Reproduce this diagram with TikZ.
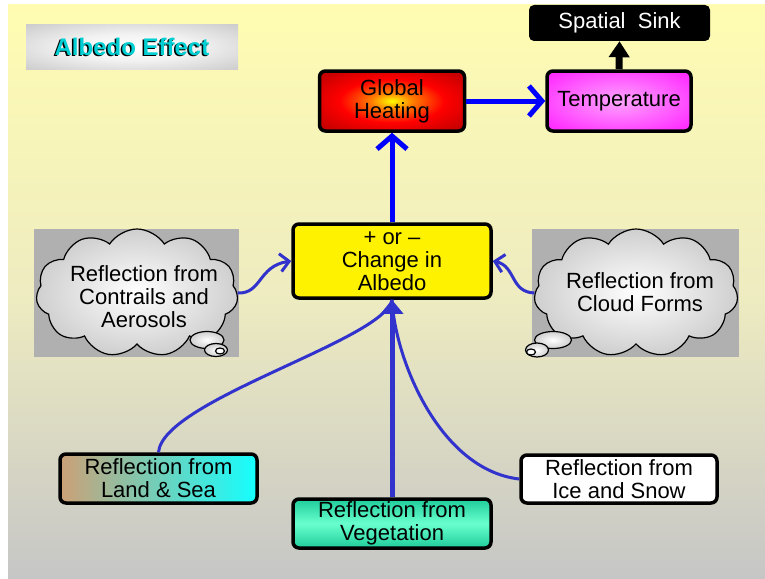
\documentclass[tikz,border=0pt]{standalone}
\usepackage{fontspec}
\setmainfont{Liberation Sans}
\usetikzlibrary{shapes.symbols,shapes.geometric,arrows.meta,shadings}
\definecolor{bgtop}{RGB}{255,252,178}
\definecolor{bgmid}{RGB}{238,236,192}
\definecolor{bgbot}{RGB}{198,198,198}
\definecolor{cloudbg}{RGB}{176,176,176}
\definecolor{cloudedge}{RGB}{178,178,178}
\definecolor{wavy}{RGB}{50,50,205}
\definecolor{tan}{RGB}{204,160,118}
\definecolor{aqua}{RGB}{20,255,255}
\definecolor{vegdark}{RGB}{30,205,155}
\definecolor{veglight}{RGB}{105,255,205}
\definecolor{titlecyan}{RGB}{0,208,212}
\definecolor{titlegrey}{RGB}{178,178,178}
\definecolor{darkred}{RGB}{70,0,0}
\definecolor{midred}{RGB}{190,0,0}
\definecolor{pinkc}{RGB}{255,165,255}
\pgfdeclareradialshading{heatshade}{\pgfpointorigin}{color(0bp)=(yellow); color(7bp)=(orange); color(18bp)=(red); color(34bp)=(midred); color(50bp)=(darkred)}
\pgfdeclareradialshading{magshade}{\pgfpointorigin}{color(0bp)=(pinkc); color(30bp)=(magenta!80!white); color(50bp)=(magenta)}
\pgfdeclareradialshading{cloudshade}{\pgfpointorigin}{color(0bp)=(white); color(40bp)=(cloudedge); color(50bp)=(cloudedge)}
\pgfdeclareradialshading{titleshade}{\pgfpointorigin}{color(0bp)=(white); color(15bp)=(white!95!black); color(50bp)=(titlegrey)}
\begin{document}
\begin{tikzpicture}[x=1pt,y=-1pt,
  txt/.style={font=\fontsize{22}{23}\selectfont, align=center, inner sep=0pt},
  box/.style={txt, draw=black, line width=3.5pt, rounded corners=6pt},
  blueline/.style={blue, line width=5pt, -{Straight Barb[length=13pt,width=30pt]}},
  wavyline/.style={wavy, line width=3pt},
  wavyarrow/.style={wavyline, -{Straight Barb[length=9pt,width=18pt]}},
  cloudbox/.style={cloud, cloud puffs=11, cloud puff arc=115, aspect=1.6, draw=black, line width=1.2pt, shading=cloudshade, inner sep=0pt},
  bubble/.style={ellipse, draw=black, line width=1.2pt, shading=cloudshade, inner sep=0pt}
]
\useasboundingbox (0,0) rectangle (765,578);
\fill[white] (0,0) rectangle (765,578);
\shade[top color=bgtop, bottom color=bgbot, middle color=bgmid] (8,5) rectangle (765,578);

% title
\shade[shading=titleshade] (26,25) rectangle (238,69);
\node[font=\bfseries\fontsize{24}{26}\selectfont, text=black, inner sep=0pt] (titleshadow) at (130.5,48) {Albedo Effect};
\node[font=\bfseries\fontsize{24}{26}\selectfont, text=titlecyan, inner sep=0pt] (title) at (132,47) {Albedo Effect};

% top nodes
\node[box, shading=heatshade, minimum width=145pt, minimum height=60pt] (gh) at (392,101) {Global\\Heating};
\node[box, shading=magshade, minimum width=144pt, minimum height=60pt] (temp) at (619,101) {Temperature};
\node[txt, fill=black, text=white, rounded corners=5pt, minimum width=181pt, minimum height=36pt] (sink) at (619.5,23) {Spatial\ \ Sink};

% centre
\node[box, fill=yellow, minimum width=198pt, minimum height=74pt] (albedo) at (392,261) {+ or --\\Change in\\Albedo};

% clouds
\fill[cloudbg] (34,229) rectangle (239,357);
\node[cloudbox, minimum width=202pt, minimum height=128pt] (cloudL) at (137,293) {};
\node[bubble, minimum width=34pt, minimum height=17pt] (bubL1) at (207,340) {};
\node[bubble, minimum width=23pt, minimum height=13pt] (bubL2) at (216,350) {};
\node[ellipse, draw=black, line width=1.2pt, fill=white, minimum width=9pt, minimum height=6pt, inner sep=0pt] (bubL3) at (220,351) {};
\node[txt] (contrails) at (144,297) {Reflection from\\Contrails and\\Aerosols};

\fill[cloudbg] (532,229) rectangle (739,357);
\node[cloudbox, minimum width=204pt, minimum height=128pt] (cloudR) at (636,293) {};
\node[bubble, minimum width=37pt, minimum height=17pt] (bubR1) at (553,340) {};
\node[bubble, minimum width=23pt, minimum height=14pt] (bubR2) at (537,350) {};
\node[ellipse, draw=black, line width=1.2pt, fill=white, minimum width=9pt, minimum height=6pt, inner sep=0pt] (bubR3) at (531,352) {};
\node[txt] (cloudforms) at (640,292) {Reflection from\\Cloud Forms};

% bottom nodes
\node[box, left color=tan, right color=aqua, minimum width=197pt, minimum height=49pt] (land) at (158.5,478.5) {Reflection from\\Land \& Sea};
\node[box, top color=vegdark, bottom color=vegdark, middle color=veglight, minimum width=198pt, minimum height=49pt] (veg) at (392,523.5) {Reflection from\\Vegetation};
\node[box, fill=white, minimum width=196pt, minimum height=48pt] (ice) at (619,479) {Reflection from\\Ice and Snow};

% connectors
\draw[blueline] (albedo.north) -- (gh.south);
\draw[blueline] (gh.east) -- (temp.west);
\draw[black, line width=7pt, -{Triangle[length=16pt,width=20pt]}] (temp.north) -- (sink.south);

\draw[wavyarrow] (cloudL.east) .. controls (262,294) and (258,266) .. (albedo.west);
\draw[wavyarrow] (cloudR.west) .. controls (510,292) and (516,266) .. (albedo.east);

\draw[wavyline] (land.north) .. controls (163,400) and (385,340) .. (albedo.south);
\draw[wavyline] (ice.west) .. controls (440,470) and (395,360) .. (albedo.south);
\draw[wavy, line width=5pt, -{Triangle[length=14pt,width=22pt]}] (veg.north) -- (albedo.south);
\end{tikzpicture}
\end{document}
